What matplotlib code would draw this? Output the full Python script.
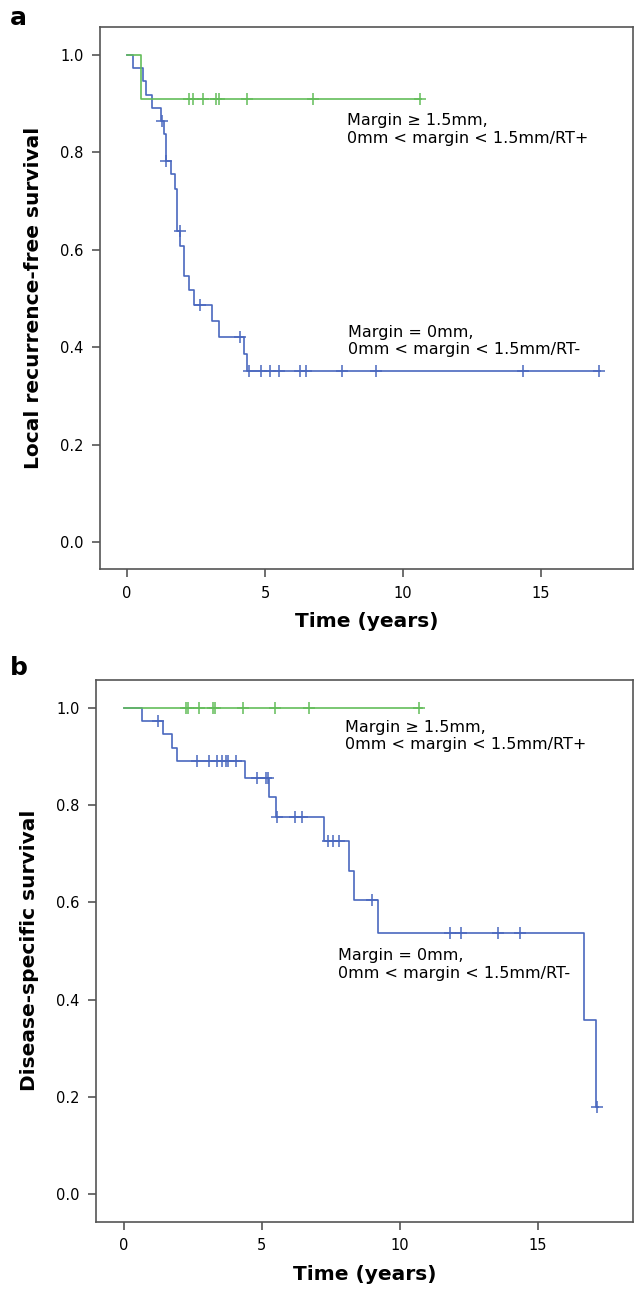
import numpy as np
from matplotlib import pyplot as plt

# panel a: local recurrence-free survival
a_green_t = [0, 0.50, 10.65]
a_green_s = [1.0, 0.909, 0.909]
a_green_cens = [2.26, 2.38, 2.74, 3.22, 3.32, 4.34, 6.75, 10.6]

a_blue_t = [0, 0.23, 0.57, 0.69, 0.92, 1.22, 1.32, 1.40, 1.58, 1.72, 1.81, 1.92,
            2.06, 2.25, 2.43, 3.07, 3.34, 4.24, 4.34, 17.14]
a_blue_s = [1.0, 0.973, 0.946, 0.919, 0.892, 0.865, 0.837, 0.782, 0.755, 0.725, 0.638, 0.607,
            0.546, 0.517, 0.487, 0.454, 0.421, 0.386, 0.351, 0.351]
a_blue_cens = [1.25, 1.42, 1.90, 2.64, 4.09, 4.42, 4.84, 5.18, 5.51, 6.27, 6.49, 7.78, 9.01,
               14.36, 17.1]

# panel b: disease-specific survival
b_green_t = [0, 10.8]
b_green_s = [1.0, 1.0]
b_green_cens = [2.26, 2.34, 2.74, 3.25, 3.32, 4.33, 5.48, 6.72, 10.7]

b_blue_t = [0, 0.65, 1.41, 1.74, 1.92, 4.39, 5.27, 5.52, 7.27, 8.15, 8.35, 9.22, 16.68, 17.11, 17.18]
b_blue_s = [1.0, 0.972, 0.945, 0.918, 0.890, 0.856, 0.817, 0.776, 0.726, 0.665, 0.605, 0.537,
            0.359, 0.179, 0.179]
b_blue_cens = [1.25, 2.67, 3.07, 3.36, 3.55, 3.70, 3.76, 4.05, 4.82, 5.14, 5.24, 5.54, 6.21, 6.45,
               7.39, 7.57, 7.78, 9.0, 11.82, 12.21, 13.57, 14.36, 17.16]

label_green = 'Margin \u2265 1.5mm,\n0mm < margin < 1.5mm/RT+'
label_blue = 'Margin = 0mm,\n0mm < margin < 1.5mm/RT-'

GREEN = '#63bd5a'
BLUE = '#4a68bf'
SPINE = '#555555'


def km_curve(ax, t, s, cens, color):
    t = np.array(t)
    s = np.array(s)
    ax.step(t, s, where='post', color=color, lw=1.2)
    idx = np.searchsorted(t, cens, side='right') - 1
    ax.plot(cens, s[idx], linestyle='none', marker='+', ms=8, mew=1.1, color=color)


def style_axes(ax, xlim, ylabel):
    ax.set_xlim(*xlim)
    ax.set_ylim(-0.056, 1.057)
    ax.set_xticks([0, 5, 10, 15])
    ax.set_yticks(np.arange(0, 1.01, 0.2))
    ax.set_yticklabels(['%.1f' % v for v in np.arange(0, 1.01, 0.2)])
    for sp in ax.spines.values():
        sp.set_color(SPINE)
        sp.set_linewidth(1.2)
    ax.tick_params(direction='out', length=6, width=1.2, color=SPINE,
                   labelsize=10.5, pad=6)
    ax.set_xlabel('Time (years)', fontsize=14.5, fontweight='bold', labelpad=8)
    ax.set_ylabel(ylabel, fontsize=14.5, fontweight='bold', labelpad=12)


fig = plt.figure(figsize=(6.34, 12.9), dpi=100)
ax_a = fig.add_axes([0.1582, 0.5587, 0.8402, 0.4201])
ax_b = fig.add_axes([0.1517, 0.0529, 0.8467, 0.4201])

km_curve(ax_a, a_blue_t, a_blue_s, a_blue_cens, BLUE)
km_curve(ax_a, a_green_t, a_green_s, a_green_cens, GREEN)
style_axes(ax_a, (-0.97, 18.33), 'Local recurrence-free survival')
ax_a.text(7.96, 0.847, label_green, fontsize=11.5, va='center', ha='left')
ax_a.text(8.02, 0.413, label_blue, fontsize=11.5, va='center', ha='left')

km_curve(ax_b, b_blue_t, b_blue_s, b_blue_cens, BLUE)
km_curve(ax_b, b_green_t, b_green_s, b_green_cens, GREEN)
style_axes(ax_b, (-1.0, 18.45), 'Disease-specific survival')
ax_b.text(8.02, 0.942, label_green, fontsize=11.5, va='center', ha='left')
ax_b.text(7.75, 0.472, label_blue, fontsize=11.5, va='center', ha='left')

fig.text(0.016, 0.986, 'a', fontsize=18, fontweight='bold', va='center', ha='left')
fig.text(0.016, 0.482, 'b', fontsize=18, fontweight='bold', va='center', ha='left')

fig.savefig('out.png', dpi=100)
